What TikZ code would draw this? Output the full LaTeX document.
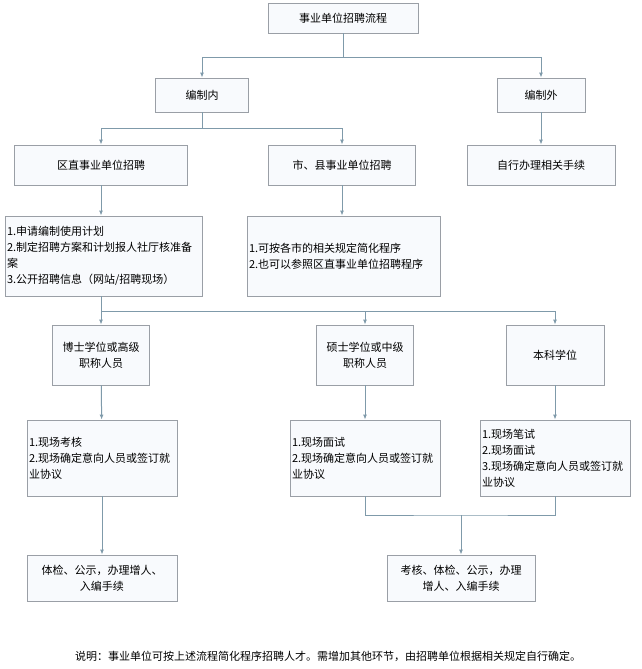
\documentclass[tikz,border=0pt]{standalone}
\usepackage{fontspec}
\setmainfont{Noto Sans CJK SC}
\XeTeXlinebreaklocale "zh"
\usetikzlibrary{arrows.meta,positioning}
\definecolor{linecol}{HTML}{7F9AAA}
\definecolor{boxcol}{HTML}{9A9FA6}
\definecolor{fillcol}{HTML}{F8FAFD}
\tikzset{
  box/.style={draw=boxcol, fill=fillcol, line width=0.8pt, align=center, font=\fontsize{11}{16}\selectfont, inner sep=2pt},
  listbox/.style={box, align=left, text width=#1},
  link/.style={draw=linecol, line width=1pt, -{Latex[length=5pt,width=4pt]}},
  branch/.style={draw=linecol, line width=1pt}
}
\begin{document}
\begin{tikzpicture}[x=1pt,y=-1pt]
\useasboundingbox[fill=white] (0,0) rectangle (641,669);

\node[box, minimum width=150, minimum height=30] (top) at (343,18) {事业单位招聘流程};
\node[box, minimum width=93, minimum height=34] (inner) at (202,95) {编制内};
\node[box, minimum width=88, minimum height=34] (outer) at (541,95) {编制外};
\node[box, minimum width=173, minimum height=40] (district) at (101,165) {区直事业单位招聘};
\node[box, minimum width=147, minimum height=40] (city) at (342,165) {市、县事业单位招聘};
\node[box, minimum width=148, minimum height=40] (self) at (541,165) {自行办理相关手续};

\node[listbox=193, minimum height=80] (steps1) at (103.5,256) {1.申请编制使用计划\\2.制定招聘方案和计划报人社厅核准备案\\3.公开招聘信息（网站/招聘现场）};
\node[listbox=189, minimum height=80] (steps2) at (343.5,256) {1.可按各市的相关规定简化程序\\2.也可以参照区直事业单位招聘程序};

\node[box, minimum width=97, minimum height=60] (doctor) at (101,355) {博士学位或高级\\职称人员};
\node[box, minimum width=97, minimum height=60] (master) at (365,355) {硕士学位或中级\\职称人员};
\node[box, minimum width=98, minimum height=60] (bachelor) at (555,355) {本科学位};

\node[listbox=146, minimum height=76] (check1) at (102,458) {1.现场考核\\2.现场确定意向人员或签订就业协议};
\node[listbox=146, minimum height=76] (check2) at (365,458) {1.现场面试\\2.现场确定意向人员或签订就业协议};
\node[listbox=146, minimum height=76] (check3) at (555,458) {1.现场笔试\\2.现场面试\\3.现场确定意向人员或签订就业协议};

\node[box, minimum width=150, minimum height=46] (final1) at (102,578) {体检、公示，办理增人、\\入编手续};
\node[box, minimum width=148, minimum height=46] (final2) at (461,578) {考核、体检、公示，办理\\增人、入编手续};

\node[font=\fontsize{11}{13}\selectfont, anchor=west, inner sep=0pt] (note) at (75,656) {说明：事业单位可按上述流程简化程序招聘人才。需增加其他环节，由招聘单位根据相关规定自行确定。};

% upper branches
\coordinate (s1) at (343,58);
\draw[branch] (top.south) -- (s1);
\draw[link] (s1) -| (inner.north);
\draw[link] (s1) -| (outer.north);
\coordinate (s2) at (202,128);
\draw[branch] (inner.south) -- (s2);
\draw[link] (s2) -| (district.north);
\draw[link] (s2) -| (city.north);
\draw[link] (outer) -- (self);
\draw[link] (district) -- (district.south |- steps1.north);
\draw[link] (city) -- (city.south |- steps2.north);

% degree branches
\coordinate (s3) at (101,311);
\draw[branch] (steps1.south -| s3) -- (s3);
\draw[link] (s3) -- (doctor.north);
\draw[link] (s3) -| (master.north);
\draw[link] (s3) -| (bachelor.north);
\draw[link] (doctor) -- (check1);
\draw[link] (master) -- (check2);
\draw[link] (bachelor) -- (check3);
\draw[link] (check1) -- (final1);

\coordinate (s4) at (461,515);
\draw[branch] (check2.south) |- (s4) -| (check3.south);
\draw[link] (s4) -- (final2.north);
\end{tikzpicture}
\end{document}
